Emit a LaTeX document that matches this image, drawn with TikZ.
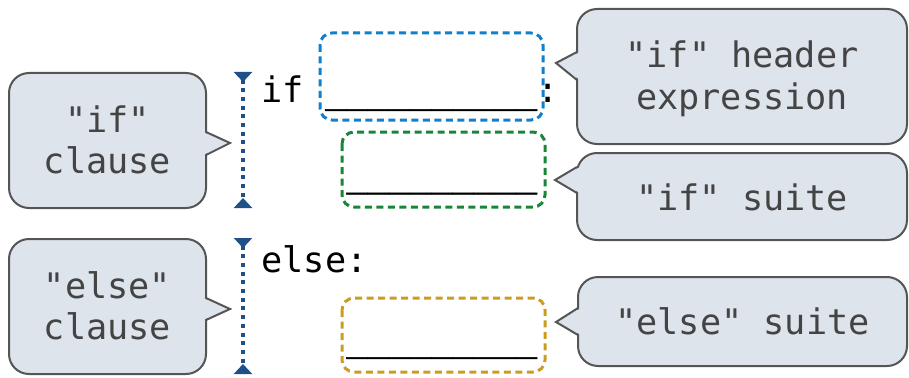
\documentclass[tikz,border=0pt]{standalone}
\usepackage{fontspec}
\usetikzlibrary{arrows.meta}
\newfontfamily\codefont{DejaVu Sans Mono}
\newfontfamily\blankfont[FakeBold=1.2]{DejaVu Sans Mono}
\definecolor{boxfill}{RGB}{221,228,236}
\definecolor{boxline}{RGB}{85,85,85}
\definecolor{labeltext}{RGB}{68,68,68}
\definecolor{exprblue}{RGB}{16,128,204}
\definecolor{suitegreen}{RGB}{24,134,56}
\definecolor{elsegold}{RGB}{204,156,32}
\definecolor{bracketblue}{RGB}{31,80,136}
\newcommand\blanks[1]{{\blankfont\foreach \k in {1,...,#1}{\_}}}
\tikzset{
  callbox/.style={draw=boxline, fill=boxfill, line width=2pt, rounded corners=20pt},
  calltext/.style={font=\codefont\fontsize{35.2}{42}\selectfont, text=labeltext, inner sep=0pt, anchor=base},
  codetext/.style={font=\codefont\fontsize{35.2}{42}\selectfont, text=black, inner sep=0pt, anchor=base west},
  slot/.style={line width=3pt, dash pattern=on 7pt off 4.5pt, rounded corners=12pt},
  clausebar/.style={draw=bracketblue, line width=4pt, dash pattern=on 4pt off 4.7pt,
    {Triangle[reversed,length=10pt,width=18pt]}-{Triangle[reversed,length=10pt,width=18pt]}},
}
% callout: box corners, pointer tip, pointer base ends (inside, then on the box edge)
\newcommand\calloutbox[7]{%
  \draw[callbox] (#1) rectangle (#2);
  \fill[boxfill] (#4) -- (#3) -- (#5) -- cycle;
  \draw[boxline, line width=2pt, line join=miter] (#6) -- (#3) -- (#7);
}
\begin{document}
\begin{tikzpicture}[x=1pt,y=-1pt]
\useasboundingbox (0,0) rectangle (909,377);

% dashed slots
\draw[slot, draw=exprblue] (320,33) rectangle (543,120);
\draw[slot, draw=suitegreen] (342,132) rectangle (545,207);
\draw[slot, draw=elsegold] (342,298) rectangle (545,372);

% code lines
\node[codetext] (ifline) at (261.4,102.5) {if \blanks{10}:};
\node[codetext] (ifsuiteline) at (346.2,186) {\blanks{9}};
\node[codetext] (elseline) at (261.4,272) {else:};
\node[codetext] (elsesuiteline) at (346.2,350.5) {\blanks{9}};

% clause brackets
\coordinate (ifTop) at (243,72);
\coordinate (ifBot) at (243,208);
\coordinate (elseTop) at (243,238);
\coordinate (elseBot) at (243,374);
\draw[clausebar] (ifTop) -- (ifBot);
\draw[clausebar] (elseTop) -- (elseBot);

% callouts
\calloutbox{9,73}{206,208}{230,143}{203,132}{203,155}{206,132}{206,155}
\node[calltext] (ifc1) at (107.5,132) {"if"};
\node[calltext] (ifc2) at (107.5,173) {clause};

\calloutbox{9,239}{206,374}{230,309}{203,298}{203,320}{206,298}{206,320}
\node[calltext] (elc1) at (107.5,298) {"else"};
\node[calltext] (elc2) at (107.5,339) {clause};

\calloutbox{577,9}{907,144}{556,63}{580,52}{580,80}{577,52}{577,80}
\node[calltext] (hdr1) at (742,68) {"if" header};
\node[calltext] (hdr2) at (742,110) {expression};

\calloutbox{577,153}{907,240}{555,180}{580,167}{580,193}{577,167}{577,193}
\node[calltext] (ifs) at (742,210) {"if" suite};

\calloutbox{578,277}{907,366}{556,322}{581,308}{581,335}{578,308}{578,335}
\node[calltext] (els) at (742.5,334) {"else" suite};
\end{tikzpicture}
\end{document}
